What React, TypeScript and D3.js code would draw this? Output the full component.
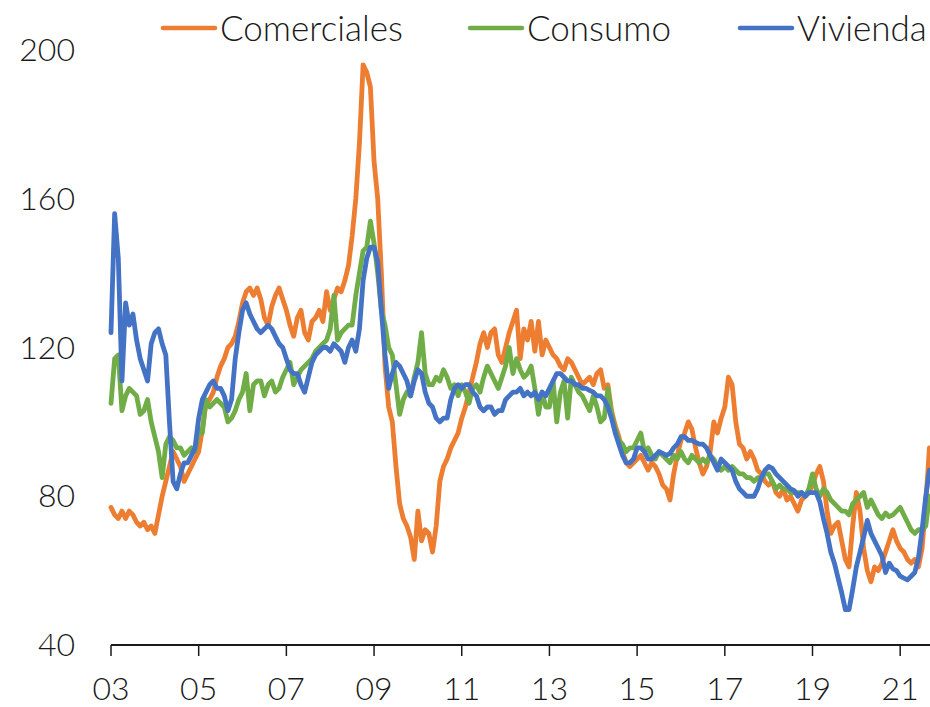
import React, { useEffect, useRef } from 'react';
import * as d3 from 'd3';

// monthly values, Jan 2003 - Sep 2021
const comerciales = [
  77, 75, 74, 76, 74, 76, 75, 73, 72, 73, 71, 72,
  70, 75, 80, 84, 88, 92, 90, 88, 84, 86, 88, 90,
  92, 98, 105, 106, 108, 112, 115, 117, 120, 121, 123, 127,
  132, 135, 136, 134, 136, 133, 128, 126, 131, 134, 136, 133,
  130, 126, 123, 128, 130, 124, 122, 127, 128, 130, 127, 135,
  130, 133, 136, 135, 138, 142, 150, 160, 175, 196, 194, 190,
  170, 160, 140, 115, 104, 100, 88, 78, 74, 72, 69, 63,
  76, 68, 71, 70, 65, 72, 84, 88, 90, 93, 95, 97,
  101, 104, 108, 112, 116, 121, 124, 120, 124, 125, 118, 116,
  120, 124, 127, 130, 117, 125, 122, 127, 119, 127, 118, 122,
  120, 118, 117, 115, 114, 117, 116, 114, 112, 110, 111, 112,
  110, 113, 114, 109, 110, 103, 99, 96, 92, 89, 88, 89,
  90, 91, 89, 87, 89, 88, 86, 83, 82, 79, 86, 91,
  95, 97, 100, 98, 93, 89, 86, 88, 92, 100, 97, 101,
  104, 112, 110, 100, 94, 93, 90, 92, 90, 87, 86, 84,
  83, 84, 81, 80, 82, 79, 80, 78, 76, 79, 80, 81,
  83, 86, 88, 84, 76, 70, 72, 73, 68, 63, 61, 72,
  81, 76, 66, 60, 57, 61, 60, 62, 65, 68, 71, 68,
  66, 65, 63, 62, 63, 61, 66, 78, 93,
];

const consumo = [
  105, 117, 118, 103, 107, 109, 108, 107, 102, 103, 106, 100,
  96, 92, 85, 94, 96, 95, 93, 93, 91, 92, 93, 92,
  98, 97, 106, 104, 105, 106, 105, 104, 100, 101, 103, 106,
  108, 113, 103, 110, 111, 111, 107, 110, 111, 108, 109, 112,
  114, 116, 110, 112, 114, 115, 116, 117, 119, 120, 121, 122,
  125, 134, 122, 124, 125, 126, 126, 134, 140, 146, 147, 154,
  148, 140, 130, 126, 120, 118, 110, 102, 106, 108, 107, 112,
  116, 124, 113, 110, 110, 112, 111, 114, 112, 109, 110, 107,
  110, 108, 105, 109, 110, 108, 112, 115, 113, 111, 109, 112,
  115, 120, 113, 117, 114, 112, 113, 115, 109, 102, 108, 104,
  104, 111, 100, 108, 111, 101, 112, 110, 108, 107, 105, 103,
  107, 104, 100, 101, 109, 102, 98, 95, 94, 92, 93, 93,
  95, 97, 92, 93, 91, 90, 92, 91, 90, 89, 91, 90,
  92, 90, 89, 91, 90, 89, 90, 89, 91, 90, 88, 87,
  88, 87, 88, 87, 86, 86, 85, 85, 84, 85, 85, 86,
  86, 84, 82, 83, 82, 82, 81, 81, 81, 81, 80, 82,
  86, 82, 80, 82, 81, 79, 78, 77, 76, 76, 75, 78,
  79, 80, 81, 77, 79, 77, 75, 74, 75.5, 74.5, 75, 76,
  77, 75, 73, 71, 70, 71, 71, 72, 80,
];

const vivienda = [
  124, 156, 144, 111, 132, 126, 129, 122, 117, 114, 111, 121,
  124, 125, 121, 118, 100, 84, 82, 86, 89, 89, 91, 93,
  101, 106, 108, 110, 111, 109, 109, 107, 103, 106, 117, 124,
  130, 132, 129, 127, 125, 124, 125, 126, 125, 123, 121, 120,
  117, 114, 113, 113, 110, 108, 112, 116, 118, 119, 120, 120,
  119, 121, 120, 119, 116, 120, 122, 119, 125, 138, 144, 147,
  147, 143, 130, 118, 109, 113, 116, 115, 113, 111, 107, 111,
  114, 113, 108, 105, 104, 101, 100, 101, 101, 106, 109, 110,
  109, 110, 110, 108, 107, 104, 103, 104, 104, 102, 103, 103,
  106, 107, 108, 108, 109, 107, 108, 107, 108, 106, 108, 107,
  109, 111, 113, 113, 112, 111, 111, 110, 110, 109, 109, 108.5,
  108, 107, 107, 106, 104, 101, 97, 94, 91, 89, 89, 90,
  93, 93, 92, 90, 90, 91, 92, 91.5, 91, 91.5, 93, 94,
  96, 96, 95, 95, 94.5, 94, 94, 93, 91, 89, 87, 90,
  89, 88, 87, 84, 82, 81, 80, 80, 80, 82, 85, 87,
  88, 87.5, 86, 85, 84, 83, 82, 81.5, 80, 81, 80, 81,
  81, 81, 78.5, 74, 70, 65, 62, 58, 54, 49.5, 49.5, 55,
  61, 65, 69, 73.5, 70, 68, 66, 64, 59.5, 62, 60.5, 60,
  58.5, 58, 57.5, 58.5, 59.5, 63.5, 71, 80, 87,
];

const seriesNames = ['Comerciales', 'Consumo', 'Vivienda'];
const seriesColors = ['#ED7D31', '#70AD47', '#4472C4'];
const xTickYears = [2003, 2005, 2007, 2009, 2011, 2013, 2015, 2017, 2019, 2021];
const yTicks = [40, 80, 120, 160, 200];

const font = "Lato, 'Liberation Sans', Arial, sans-serif";

const App = () => {
  const ref = useRef<SVGSVGElement>(null);

  useEffect(() => {
    const svg = d3.select(ref.current);
    svg.selectAll('*').remove();

    const x = d3.scaleLinear().domain([2003, 2021.68]).range([111, 930]);
    const y = d3.scaleLinear().domain([40, 200]).range([645, 50]);

    const allSeries = [comerciales, consumo, vivienda];

    const line = d3.line<number>()
      .x((d, i) => x(2003 + i / 12))
      .y(d => y(d));

    // y labels (no axis line)
    svg.append('g')
      .selectAll('text')
      .data(yTicks)
      .enter()
      .append('text')
        .attr('x', 75)
        .attr('y', d => y(d))
        .attr('dy', '0.35em')
        .attr('text-anchor', 'end')
        .attr('font-family', font)
        .attr('font-weight', 300)
        .attr('font-size', 32)
        .attr('fill', '#1a1a1a')
        .text(d => d);

    // x axis
    const xAxis = svg.append('g');
    xAxis.append('line')
      .attr('x1', x(2003))
      .attr('x2', 930)
      .attr('y1', y(40))
      .attr('y2', y(40))
      .attr('stroke', '#1a1a1a')
      .attr('stroke-width', 2);
    xAxis.selectAll('line.tick')
      .data(xTickYears)
      .enter()
      .append('line')
        .attr('class', 'tick')
        .attr('x1', d => x(d))
        .attr('x2', d => x(d))
        .attr('y1', y(40))
        .attr('y2', y(40) + 11)
        .attr('stroke', '#1a1a1a')
        .attr('stroke-width', 1.5);
    xAxis.selectAll('text')
      .data(xTickYears)
      .enter()
      .append('text')
        .attr('x', d => x(d))
        .attr('y', 700)
        .attr('text-anchor', 'middle')
        .attr('font-family', font)
        .attr('font-weight', 300)
        .attr('font-size', 32)
        .attr('fill', '#1a1a1a')
        .text(d => String(d % 100).padStart(2, '0'));

    // series
    allSeries.forEach((s, k) => {
      svg.append('path')
        .datum(s)
        .attr('d', line)
        .attr('fill', 'none')
        .attr('stroke', seriesColors[k])
        .attr('stroke-width', 4.8)
        .attr('stroke-linejoin', 'round')
        .attr('stroke-linecap', 'round');
    });

    // legend
    const legendX = [163, 470, 740];
    const legend = svg.append('g');
    seriesNames.forEach((name, k) => {
      legend.append('line')
        .attr('x1', legendX[k])
        .attr('x2', legendX[k] + 52)
        .attr('y1', 28)
        .attr('y2', 28)
        .attr('stroke', seriesColors[k])
        .attr('stroke-width', 4.5)
        .attr('stroke-linecap', 'round');
      legend.append('text')
        .attr('x', legendX[k] + 57)
        .attr('y', 29)
        .attr('dy', '0.35em')
        .attr('font-family', font)
        .attr('font-weight', 300)
        .attr('font-size', 35)
        .attr('fill', '#1a1a1a')
        .text(name);
    });
  }, []);

  return (
    <svg
      ref={ref}
      width={930}
      height={707}
      style={{ position: 'absolute', left: 0, top: 0, background: '#fff' }}
    />
  );
};

export default App;
